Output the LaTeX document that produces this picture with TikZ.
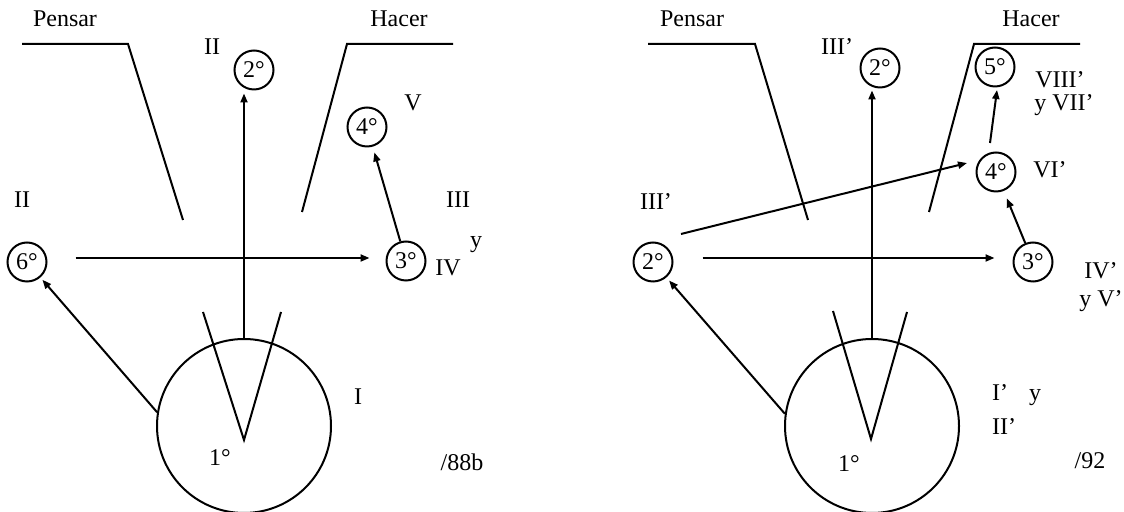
\documentclass[tikz,border=0pt]{standalone}
\usepackage{fontspec}
\setmainfont{Liberation Serif}
\usetikzlibrary{arrows.meta}
\begin{document}
\begin{tikzpicture}[x=0.5pt,y=-0.5pt,
  every node/.style={font=\fontsize{12}{14}\selectfont, inner sep=0pt},
  ord/.style={circle,draw,line width=1pt,minimum size=19.5pt},
  bigc/.style={circle,draw,line width=1pt,minimum size=87pt},
  stroke/.style={line width=1pt},
  arr/.style={line width=1pt,-{Triangle[length=4.5pt,width=3.5pt]}},
]
\useasboundingbox (0,0) rectangle (1124,512);

% ---------- left diagram ----------
\node (pensarL) at (65,19) {Pensar};
\node (hacerL) at (399,19) {Hacer};
\draw[stroke] (22,44) -- (128,44) -- (183,220);
\draw[stroke] (453,44) -- (347,44) -- (302,212);

\node[ord] (twoL) at (254,70) {2°};
\node[ord] (fourL) at (367,127) {4°};
\node[ord] (threeL) at (406,261) {3°};
\node[ord] (sixL) at (27,262) {6°};
\node[bigc] (oneL) at (244,426) {};
\node (oneLt) at (220,458) {1°};
\draw[stroke] (203,312) -- (244,440) -- (281,312);

\draw[arr, shorten >=1.5pt] (oneL.north) -- (oneL.north |- twoL.south);
\draw[arr] ([xshift=14pt,yshift=2pt]sixL.east) -- ([xshift=-8pt,yshift=1.5pt]threeL.west);
\draw[arr, shorten >=1.5pt] (oneL.171.5) -- (sixL);
\draw[arr, shorten >=3pt] (threeL) -- (fourL);

\node (lIIa) at (212,47) {II};
\node (lV) at (413,103) {V};
\node (lIIb) at (22,200) {II};
\node (lIII) at (458,200) {III};
\node (ly) at (476,245) {y};
\node (lIV) at (448,268) {IV};
\node (lI) at (358,397) {I};
\node (l88) at (462,462) {/88b};

% ---------- right diagram ----------
\node (pensarR) at (692,19) {Pensar};
\node (hacerR) at (1031,19) {Hacer};
\draw[stroke] (648,44) -- (755,44) -- (808,220);
\draw[stroke] (1080,44) -- (974,44) -- (929,212);

\node[ord] (twoR) at (880,68) {2°};
\node[ord] (fiveR) at (995,67) {5°};
\node[ord] (fourR) at (996,172) {4°};
\node[ord] (threeR) at (1033,262) {3°};
\node[ord] (twoRL) at (653,262) {2°};
\node[bigc] (oneR) at (872,426) {};
\node (oneRt) at (849,464) {1°};
\draw[stroke] (833,311) -- (871,439) -- (907,312);

\draw[arr, shorten >=1pt] (oneR.north) -- (oneR.north |- twoR.south);
\draw[arr] ([xshift=14.5pt,yshift=2pt]twoRL.east) -- ([xshift=-9pt,yshift=2pt]threeR.west);
\draw[arr, shorten >=2pt] (oneR.172) -- (twoRL);
\draw[arr] ([xshift=14pt,yshift=14pt]twoRL.center) -- ([xshift=-14.5pt,yshift=4.5pt]fourR.center);
\draw[arr] ([xshift=-3pt,yshift=14.5pt]fourR.center) -- ([xshift=1pt,yshift=-11.5pt]fiveR.center);
\draw[arr, shorten >=4pt] (threeR) -- (fourR);

\node (rIIIa) at (837,47) {III’};
\node (rVIII) at (1060,80) {VIII’};
\node (rVII) at (1064,105) {y VII’};
\node (rVI) at (1050,170) {VI’};
\node (rIIIb) at (656,202) {III’};
\node (rIV) at (1101,271) {IV’};
\node (rV) at (1101,301) {y V’};
\node (rI) at (1000,393) {I’};
\node (ry) at (1035,398) {y};
\node (rII) at (1004,427) {II’};
\node (r92) at (1090,461) {/92};
\end{tikzpicture}
\end{document}
